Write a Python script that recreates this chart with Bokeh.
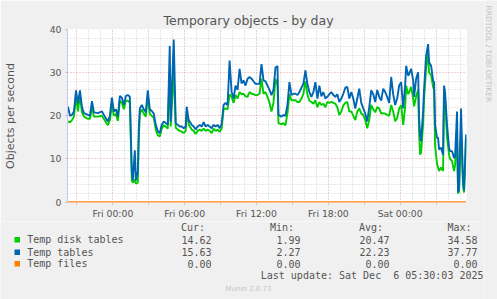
from math import pi
from bokeh.plotting import figure
from bokeh.layouts import row, column
from bokeh.models import Range1d, FixedTicker
from bokeh.core.properties import value
from bokeh.embed import file_html
from bokeh.resources import INLINE

# minutes relative to Fri 00:00 (5-minute RRD samples)
minutes = [
    -225, -215, -205, -195, -185, -175, -165, -155, -145, -125, -115, -105, -95, -75, -55, -35, -25, -15, -5,
    5, 15, 25, 35, 45, 55, 65, 75, 85, 95, 100, 110, 115, 125, 130, 135, 145, 155, 165, 175, 185, 195,
    205, 215, 225, 235, 245, 255, 265, 275, 285, 290, 305, 315, 325, 335, 345, 355, 365, 370, 380, 395,
    405, 415, 425, 435, 445, 455, 465, 475, 485, 495, 505, 515, 525, 535, 545, 555, 565, 575, 585, 595,
    605, 615, 625, 635, 645, 655, 665, 675, 685, 695, 705, 715, 725, 735, 745, 755, 765, 775, 785, 795,
    805, 815, 825, 830, 845, 855, 865, 875, 885, 895, 905, 915, 925, 935, 945, 955, 965, 975, 985, 995,
    1005, 1015, 1025, 1035, 1045, 1055, 1065, 1075, 1085, 1095, 1105, 1115, 1125, 1135, 1145, 1155, 1165,
    1175, 1185, 1195, 1205, 1215, 1225, 1235, 1245, 1255, 1265, 1275, 1285, 1295, 1305, 1315, 1325, 1335,
    1345, 1355, 1365, 1375, 1385, 1395, 1405, 1415, 1425, 1435, 1445, 1455, 1465, 1470, 1480, 1485, 1495,
    1505, 1510, 1520, 1530, 1535, 1540, 1545, 1555, 1560, 1570, 1580, 1585, 1595, 1605, 1610, 1615, 1625,
    1630, 1635, 1645, 1655, 1660, 1665, 1675, 1685, 1690, 1700, 1710, 1715, 1725, 1730, 1735, 1745, 1755,
    1760, 1765, 1770,
]

temp_tables = [
    22.1, 20.0, 20.2, 21.0, 25.9, 22.9, 25.9, 22.0, 20.6, 20.2, 20.0, 23.4, 20.8, 20.6, 21.0, 19.4, 18.7, 20.0, 24.2,
    21.0, 21.5, 19.8, 24.6, 24.2, 22.5, 24.6, 24.8, 24.4, 7.0, 5.0, 12.0, 5.0, 7.2, 17.0, 21.7, 22.5, 21.5, 20.8, 25.9, 21.5, 21.1,
    20.5, 17.9, 16.4, 16.0, 17.9, 18.7, 18.3, 17.9, 36.2, 18.7, 37.7, 18.3, 17.9, 17.5, 17.5, 17.1, 17.5, 22.1, 19.0, 17.9,
    17.5, 16.8, 17.5, 17.9, 17.5, 18.5, 17.5, 17.9, 17.5, 17.1, 17.9, 17.5, 17.9, 17.1, 18.0, 22.5, 23.0, 22.5, 32.8, 25.5,
    24.0, 27.0, 26.0, 30.9, 27.5, 28.2, 27.0, 28.6, 29.0, 28.6, 28.0, 27.4, 27.4, 27.4, 32.0, 28.2, 28.0, 27.0, 26.0, 24.8,
    26.0, 31.2, 31.5, 20.2, 19.8, 20.2, 20.0, 22.5, 27.8, 24.8, 25.1, 25.1, 24.8, 25.5, 26.5, 27.4, 30.5, 27.4, 25.5, 24.4,
    25.5, 27.8, 24.0, 27.0, 24.5, 25.5, 24.0, 24.4, 25.0, 25.5, 24.8, 24.4, 25.0, 23.2, 24.0, 25.1, 26.5,
    26.7, 24.0, 25.5, 24.0, 21.7, 24.0, 26.3, 23.0, 21.7, 20.5, 18.7, 22.0, 25.9, 25.0, 23.2, 26.0, 24.4,
    23.5, 26.3, 25.5, 24.4, 23.0, 29.0, 25.0, 22.5, 24.0, 27.0, 27.8, 21.7, 27.0, 31.6, 29.3, 29.7, 30.9,
    28.2, 24.4, 28.6, 30.1, 19.4, 15.6, 14.1, 21.0, 26.3, 33.9, 36.6, 32.4, 31.6, 28.2, 27.8, 17.9, 14.9,
    14.9, 12.2, 12.6, 11.0, 27.0, 25.5, 17.9, 12.6, 11.8, 11.8, 10.3, 10.3, 21.0, 2.27, 3.4, 21.7, 5.0,
    2.7, 8.8, 15.63,
]

temp_disk_tables = [
    18.7, 18.5, 19.0, 19.8, 24.5, 21.0, 24.8, 20.8, 19.8, 19.3, 19.3, 22.0, 19.8, 19.8, 20.0, 18.5, 17.8, 19.0, 22.5,
    20.0, 20.4, 18.8, 23.5, 23.0, 21.5, 23.5, 23.5, 23.0, 5.0, 4.5, 5.2, 4.3, 4.5, 15.0, 20.5, 21.5, 20.5, 19.8, 24.5, 20.5, 20.0,
    19.5, 16.8, 15.5, 15.2, 17.0, 17.8, 17.5, 17.0, 30.0, 17.5, 30.5, 17.2, 16.8, 16.5, 16.3, 16.0, 16.5, 21.0, 18.0, 16.8,
    16.5, 15.8, 16.5, 16.8, 16.5, 17.0, 16.5, 16.8, 16.5, 16.0, 17.0, 16.5, 16.8, 16.3, 17.0, 21.5, 21.7, 21.5, 25.0, 24.4,
    23.0, 24.8, 24.0, 25.5, 25.0, 25.1, 24.5, 24.4, 25.5, 25.1, 25.0, 24.8, 24.8, 25.1, 28.6, 25.1, 25.5, 24.4, 23.0, 21.0,
    23.0, 28.6, 27.0, 18.3, 18.0, 18.3, 17.8, 20.5, 25.0, 23.6, 23.6, 23.6, 23.2, 23.2, 24.0, 25.1, 28.0, 25.0, 23.5, 23.2,
    22.8, 23.6, 22.0, 23.2, 22.5, 22.8, 22.0, 23.2, 23.0, 23.2, 23.0, 22.8, 22.0, 20.2, 21.0, 22.4, 23.0,
    23.2, 21.0, 21.0, 20.0, 19.0, 21.0, 21.7, 20.5, 20.2, 19.0, 17.1, 19.0, 22.5, 21.5, 20.8, 22.0, 21.7,
    20.5, 20.6, 20.5, 20.2, 20.0, 22.5, 21.0, 18.7, 19.5, 21.7, 22.5, 17.9, 22.0, 27.0, 25.0, 25.5, 26.7,
    24.0, 22.2, 24.5, 26.0, 16.0, 11.0, 11.5, 18.0, 24.0, 31.0, 34.5, 30.0, 29.5, 26.7, 26.0, 13.0, 8.8,
    8.0, 7.2, 8.0, 7.2, 25.0, 23.5, 15.0, 11.0, 10.0, 9.5, 7.2, 8.5, 16.0, 1.99, 2.5, 16.5, 4.0,
    2.2, 7.5, 14.62,
]

temp_files = [0.0 for _ in minutes]

y_ticks = [0, 10, 20, 30, 40]
x_label_minutes = [0, 360, 720, 1080, 1440]
x_labels = ["Fri 00:00", "Fri 06:00", "Fri 12:00", "Fri 18:00", "Sat 00:00"]

series_names = ["Temp disk tables", "Temp tables", "Temp files"]
series_colors = ["#00CC00", "#0066B3", "#FF8000"]
headers = ["Cur:", "Min:", "Avg:", "Max:"]
cur_vals = ["14.62", "15.63", "0.00"]
min_vals = ["1.99", "2.27", "0.00"]
avg_vals = ["20.47", "22.23", "0.00"]
max_vals = ["34.58", "37.77", "0.00"]
last_update = "Last update: Sat Dec \u00a06 05:30:03 2025"
version = "Munin 2.0.73"

BG = "#F0F0F0"
TXT = "#555555"
MAIN_W, MAIN_H = 484, 221
LEG_H = 299 - MAIN_H
SIDE_W = 497 - MAIN_W

# ---------------- main chart ----------------
p = figure(width=MAIN_W, height=MAIN_H, output_backend="svg", toolbar_location=None,
           x_range=Range1d(-227.5, 1772.5), y_range=Range1d(-0.1, 40),
           min_border_left=66, min_border_right=MAIN_W - 466, min_border_top=29,
           min_border_bottom=MAIN_H - 203)
p.background_fill_color = "white"
p.border_fill_color = BG
p.outline_line_color = None

p.title.text = "Temporary objects - by day"
p.title.align = "left"
p.title.offset = 96
p.title.standoff = 3
p.title.text_font = "DejaVu Sans"
p.title.text_font_size = "12.5px"
p.title.text_font_style = "normal"
p.title.text_color = TXT

major_x = list(range(-180, 1800, 180))
minor_x = [m for m in range(-180, 1800, 60) if m % 180 != 0]
p.xgrid.ticker = FixedTicker(ticks=major_x, minor_ticks=minor_x)
p.ygrid.ticker = FixedTicker(ticks=y_ticks, minor_ticks=[v for v in range(0, 41, 2) if v % 10 != 0])
p.grid.grid_line_color = "#E6A0A0"
p.grid.grid_line_dash = "1 2"
p.grid.minor_grid_line_color = "#D0D0D0"
p.grid.minor_grid_line_dash = "1 2"

p.xaxis.ticker = FixedTicker(ticks=major_x)
overrides = {m: "" for m in major_x}
for m, lab in zip(x_label_minutes, x_labels):
    overrides[m] = lab
p.xaxis.major_label_overrides = overrides
p.yaxis.ticker = FixedTicker(ticks=y_ticks)
p.axis.minor_tick_line_color = None
p.axis.major_label_text_font = "DejaVu Sans"
p.axis.major_label_text_font_size = "9.3px"
p.axis.major_label_text_color = TXT
p.axis.major_tick_in = 0
p.axis.major_tick_out = 2
p.axis.major_tick_line_color = "#E0B0B0"
p.yaxis.major_label_standoff = 4
p.xaxis.major_label_standoff = 3
p.yaxis.axis_line_color = "#C8C8F4"
p.xaxis.axis_line_color = None
p.yaxis.axis_label = "Objects per second"
p.yaxis.axis_label_text_font = "DejaVu Sans"
p.yaxis.axis_label_text_font_size = "11px"
p.yaxis.axis_label_text_font_style = "normal"
p.yaxis.axis_label_text_color = TXT
p.yaxis.axis_label_standoff = 30

p.line(minutes, temp_disk_tables, line_color=series_colors[0], line_width=1.9)
p.line(minutes, temp_tables, line_color=series_colors[1], line_width=1.9)
p.line(minutes, temp_files, line_color=series_colors[2], line_width=1.6)


def text_panel(w, h):
    f = figure(width=w, height=h, output_backend="svg", toolbar_location=None,
               x_range=Range1d(0, w), y_range=Range1d(h, 0),
               min_border=0, x_axis_location=None, y_axis_location=None)
    f.grid.visible = False
    f.background_fill_color = BG
    f.border_fill_color = BG
    f.outline_line_color = None
    return f


# ---------------- legend table ----------------
leg = text_panel(MAIN_W, LEG_H)
mono = value("DejaVu Sans Mono")
Y0 = MAIN_H
leg.text(x=[204.5, 293.5, 382.5, 471], y=[227.3 - Y0] * 4, text=headers, text_font=mono,
         text_font_size="10px", text_color=TXT, text_align="right", text_baseline="middle")
row_ys = [239.3 - Y0, 251.7 - Y0, 263.3 - Y0]
leg.rect(x=[16.75] * 3, y=row_ys, width=5.5, height=5.5, fill_color=series_colors, line_color=None)
leg.text(x=[26.7] * 3, y=row_ys, text=series_names, text_font=mono, text_font_size="10px",
         text_color=TXT, text_align="left", text_baseline="middle")
for vals, rx in zip([cur_vals, min_vals, avg_vals, max_vals], [211, 300, 389, 477]):
    leg.text(x=[rx] * 3, y=row_ys, text=vals, text_font=mono, text_font_size="10px",
             text_color=TXT, text_align="right", text_baseline="middle")
leg.text(x=[483], y=[275 - Y0], text=[last_update], text_font=mono, text_font_size="10px",
         text_color=TXT, text_align="right", text_baseline="middle")
leg.text(x=[248], y=[288.3 - Y0], text=[version], text_font=value("DejaVu Sans"),
         text_font_size="7px", text_color="#C4C4C4", text_align="center", text_baseline="middle")

# ---------------- right-hand credit ----------------
side = text_panel(SIDE_W, 299)
side.text(x=[487.5 - MAIN_W], y=[5], text=["RRDTOOL / TOBI OETIKER"], text_font=value("DejaVu Sans"),
          text_font_size="7.5px", text_color="#C4C4C4", text_align="left", text_baseline="middle",
          angle=-pi / 2)

# wrapping the legend in its own row keeps its frame from being aligned to the chart frame
layout = row(column(p, row(leg)), side)
open("out.html", "w").write(file_html(layout, INLINE))
